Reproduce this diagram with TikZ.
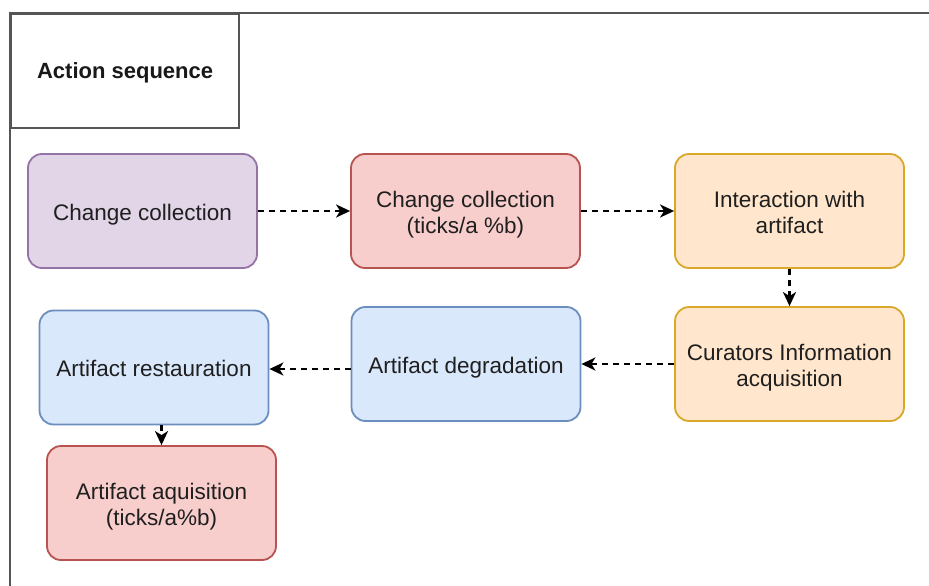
\documentclass[tikz,border=0pt]{standalone}
\usepackage{fontspec}
\setmainfont{Liberation Sans}
\usetikzlibrary{arrows.meta,calc}

\definecolor{purpleFill}{HTML}{E1D5E7}
\definecolor{purpleLine}{HTML}{9673A6}
\definecolor{redFill}{HTML}{F8CECC}
\definecolor{redLine}{HTML}{B85450}
\definecolor{orangeFill}{HTML}{FFE6CC}
\definecolor{orangeLine}{HTML}{D9A828}
\definecolor{blueFill}{HTML}{DAE8FC}
\definecolor{blueLine}{HTML}{6C8EBF}
\definecolor{frameLine}{HTML}{555555}

% centred text block, drawn a little below its nominal position
\newcommand\boxtext[2][4pt]{%
  \raisebox{-#1}[\height][\depth]{\begin{tabular}{@{}c@{}}#2\end{tabular}}}

\tikzset{
  stepbox/.style={rounded corners=14pt, line width=1.8pt,
    minimum width=229pt, minimum height=114pt,
    font=\fontsize{22.5}{26}\selectfont, text=black!88, inner sep=0pt},
  purplebox/.style={stepbox, draw=purpleLine, fill=purpleFill},
  redbox/.style={stepbox, draw=redLine, fill=redFill},
  orangebox/.style={stepbox, draw=orangeLine, fill=orangeFill},
  bluebox/.style={stepbox, draw=blueLine, fill=blueFill},
  flow/.style={draw=black, line width=2.2pt, dash pattern=on 6pt off 5pt,
    -{Stealth[length=14pt,width=13pt,inset=4pt]}},
  framestroke/.style={draw=frameLine, line width=2.2pt}
}

\begin{document}
\begin{tikzpicture}[x=1pt,y=-1pt]
  \useasboundingbox[fill=white] (0,0) rectangle (929,586);

  % outer frame and title tab
  \draw[framestroke] (929,13) -- (10,13) -- (10,586);
  \node[framestroke, rectangle, minimum width=228pt, minimum height=114pt,
        anchor=north west, inner sep=0pt,
        font=\bfseries\fontsize{22}{26}\selectfont, text=black!90]
        (title) at (10,13) {\boxtext[2pt]{Action sequence}};

  % process steps
  \node[purplebox] (cc)    at (142.5,211) {\boxtext{Change collection}};
  \node[redbox]    (cct)   at (465.5,211) {\boxtext{Change collection\\(ticks/a \%b)}};
  \node[orangebox] (inter) at (789.5,211) {\boxtext{Interaction with\\artifact}};
  \node[orangebox] (cur)   at (789.5,364) {\boxtext{Curators Information\\acquisition}};
  \node[bluebox]   (deg)   at (466,364)   {\boxtext{Artifact degradation}};
  \node[bluebox]   (rest)  at (154,367.5) {\boxtext{Artifact restauration}};
  \node[redbox]    (acq)   at (161.5,503) {\boxtext{Artifact aquisition\\(ticks/a\%b)}};

  % connectors
  \draw[flow] (cc) -- (cct);
  \draw[flow] (cct) -- (inter);
  \draw[flow] (inter) -- (cur);
  \draw[flow] (cur) -- (deg);
  \draw[flow] ([yshift=-1.5pt]deg.west |- rest) -- ([yshift=-1.5pt]rest.east);
  \draw[flow] (acq.north |- rest.south) -- (acq.north);
\end{tikzpicture}
\end{document}
